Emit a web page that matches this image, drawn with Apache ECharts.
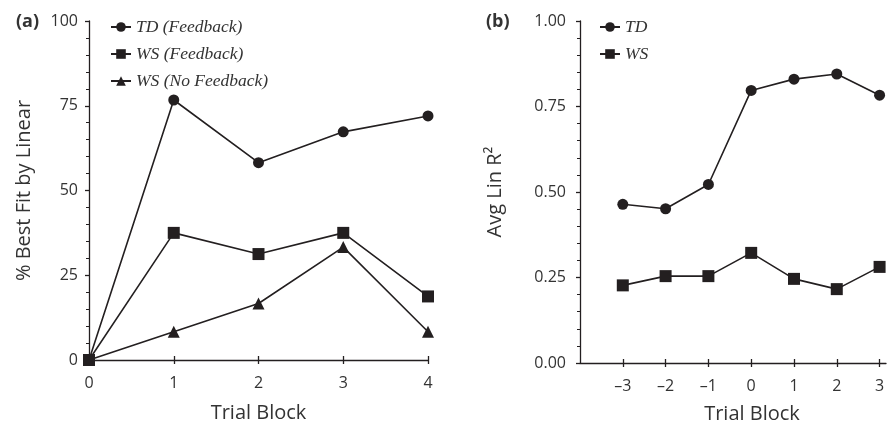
<!DOCTYPE html>
<html>
<head>
<meta charset="utf-8">
<script src="https://cdn.jsdelivr.net/npm/echarts@6/dist/echarts.min.js"></script>
<style>html,body{margin:0;padding:0;background:#fff}#c{width:888px;height:425px}</style>
</head>
<body>
<div id="c"></div>
<script>
// Panel (a)
const blocksA = [0, 1, 2, 3, 4];
const tdFeedbackA = [0, 76.7, 58.2, 67.3, 72.0];
const wsFeedbackA = [0, 37.5, 31.25, 37.5, 18.75];
const wsNoFeedbackA = [0, 8.33, 16.67, 33.3, 8.33];
// Panel (b)
const blocksB = [-3, -2, -1, 0, 1, 2, 3];
const tdB = [0.464, 0.451, 0.522, 0.797, 0.830, 0.845, 0.783];
const wsB = [0.227, 0.254, 0.254, 0.322, 0.246, 0.216, 0.281];
const yTicksA = [0, 25, 50, 75, 100];
const yTicksB = [0, 0.25, 0.5, 0.75, 1.0];

const INK = '#231f20';
const TXT = '#333';
const SANS = 'Open Sans';
const pair = (xs, ys) => xs.map((x, i) => [x, ys[i]]);

const chart = echarts.init(document.getElementById('c'));

const baseX = (grid, min, max, extra) => Object.assign({
  type: 'value', gridIndex: grid, min: min, max: max, interval: 1, position: 'bottom',
  splitLine: { show: false },
  axisLine: { show: true, onZero: false, lineStyle: { color: INK, width: 1.3 } },
  axisTick: { show: true, inside: false, length: 4, lineStyle: { color: INK, width: 1.3 } },
  axisLabel: { show: true, margin: 15, color: TXT, fontFamily: SANS, fontSize: 16 }
}, extra || {});

const option = {
  animation: false,
  backgroundColor: '#fff',
  title: [
    { text: '(a)', left: 11, top: 8, textStyle: { fontFamily: SANS, fontWeight: 'bold', fontSize: 18, color: TXT } },
    { text: '(b)', left: 481, top: 8, textStyle: { fontFamily: SANS, fontWeight: 'bold', fontSize: 18, color: TXT } }
  ],
  legend: [
    {
      data: ['TD (Feedback)', 'WS (Feedback)', 'WS (No Feedback)'],
      orient: 'vertical', left: 105, top: 13, itemGap: 9, itemWidth: 20, itemHeight: 12,
      textStyle: { fontFamily: 'Liberation Serif', fontStyle: 'italic', fontSize: 17.5, color: TXT }
    },
    {
      data: ['TD', 'WS'],
      orient: 'vertical', left: 594, top: 13, itemGap: 9, itemWidth: 20, itemHeight: 12,
      textStyle: { fontFamily: 'Liberation Serif', fontStyle: 'italic', fontSize: 17.5, color: TXT }
    }
  ],
  grid: [
    { left: 89, top: 21, width: 339, height: 339, outerBoundsMode: 'none', containLabel: false },
    { left: 580, top: 21, width: 306, height: 342, outerBoundsMode: 'none', containLabel: false }
  ],
  xAxis: [
    baseX(0, 0, 4, {
      name: 'Trial Block', nameLocation: 'middle', nameGap: 43,
      nameTextStyle: { fontFamily: SANS, fontSize: 20, color: TXT }
    }),
    baseX(0, 0, 4, {
      axisLine: { show: false }, axisLabel: { show: false },
      axisTick: { show: true, inside: true, length: 4, lineStyle: { color: INK, width: 1.3 } }
    }),
    baseX(1, -4, 3.15, {
      name: 'Trial Block', nameLocation: 'middle', nameGap: 41,
      nameTextStyle: { fontFamily: SANS, fontSize: 20, color: TXT, padding: [0, 0, 0, 38] },
      axisTick: { show: true, inside: false, length: 4, customValues: blocksB, lineStyle: { color: INK, width: 1.3 } },
      axisLabel: { show: true, margin: 15, color: TXT, fontFamily: SANS, fontSize: 16, customValues: blocksB,
        formatter: v => (v < 0 ? '\u2013' + Math.abs(v) : String(v)) }
    }),
    baseX(1, -4, 3.15, {
      axisLine: { show: false }, axisLabel: { show: false },
      axisTick: { show: true, inside: true, length: 4, customValues: blocksB, lineStyle: { color: INK, width: 1.3 } }
    })
  ],
  yAxis: [
    {
      type: 'value', gridIndex: 0, min: 0, max: 100, interval: 25,
      name: '% Best Fit by Linear', nameLocation: 'middle', nameGap: 55,
      nameTextStyle: { fontFamily: SANS, fontSize: 20, color: TXT },
      splitLine: { show: false },
      axisLine: { show: true, onZero: false, lineStyle: { color: INK, width: 1.3 } },
      axisTick: { show: true, length: 4, lineStyle: { color: INK, width: 1.3 } },
      minorTick: { show: true, splitNumber: 5, length: 3, lineStyle: { color: INK, width: 1 } },
      axisLabel: { margin: 11, color: TXT, fontFamily: SANS, fontSize: 16 }
    },
    {
      type: 'value', gridIndex: 1, min: 0, max: 1, interval: 0.25,
      name: 'Avg Lin R\u00B2', nameLocation: 'middle', nameGap: 75,
      nameTextStyle: { fontFamily: SANS, fontSize: 20, color: TXT },
      splitLine: { show: false },
      axisLine: { show: true, onZero: false, lineStyle: { color: INK, width: 1.3 } },
      axisTick: { show: true, length: 4, lineStyle: { color: INK, width: 1.3 } },
      minorTick: { show: true, splitNumber: 5, length: 3, lineStyle: { color: INK, width: 1 } },
      axisLabel: { margin: 14, color: TXT, fontFamily: SANS, fontSize: 16, formatter: v => v.toFixed(2) }
    }
  ],
  series: [
    { name: 'TD (Feedback)', type: 'line', xAxisIndex: 0, yAxisIndex: 0, data: pair(blocksA, tdFeedbackA),
      symbol: 'circle', symbolSize: 11, z: 2,
      lineStyle: { color: INK, width: 1.6 }, itemStyle: { color: INK } },
    { name: 'WS (Feedback)', type: 'line', xAxisIndex: 0, yAxisIndex: 0, data: pair(blocksA, wsFeedbackA),
      symbol: 'rect', symbolSize: 12, z: 4,
      lineStyle: { color: INK, width: 1.6 }, itemStyle: { color: INK } },
    { name: 'WS (No Feedback)', type: 'line', xAxisIndex: 0, yAxisIndex: 0, data: pair(blocksA, wsNoFeedbackA),
      symbol: 'triangle', symbolSize: 12, z: 3,
      lineStyle: { color: INK, width: 1.6 }, itemStyle: { color: INK } },
    { name: 'TD', type: 'line', xAxisIndex: 2, yAxisIndex: 1, data: pair(blocksB, tdB),
      symbol: 'circle', symbolSize: 11,
      lineStyle: { color: INK, width: 1.6 }, itemStyle: { color: INK } },
    { name: 'WS', type: 'line', xAxisIndex: 2, yAxisIndex: 1, data: pair(blocksB, wsB),
      symbol: 'rect', symbolSize: 12,
      lineStyle: { color: INK, width: 1.6 }, itemStyle: { color: INK } }
  ]
};
chart.setOption(option);
</script>
</body>
</html>
